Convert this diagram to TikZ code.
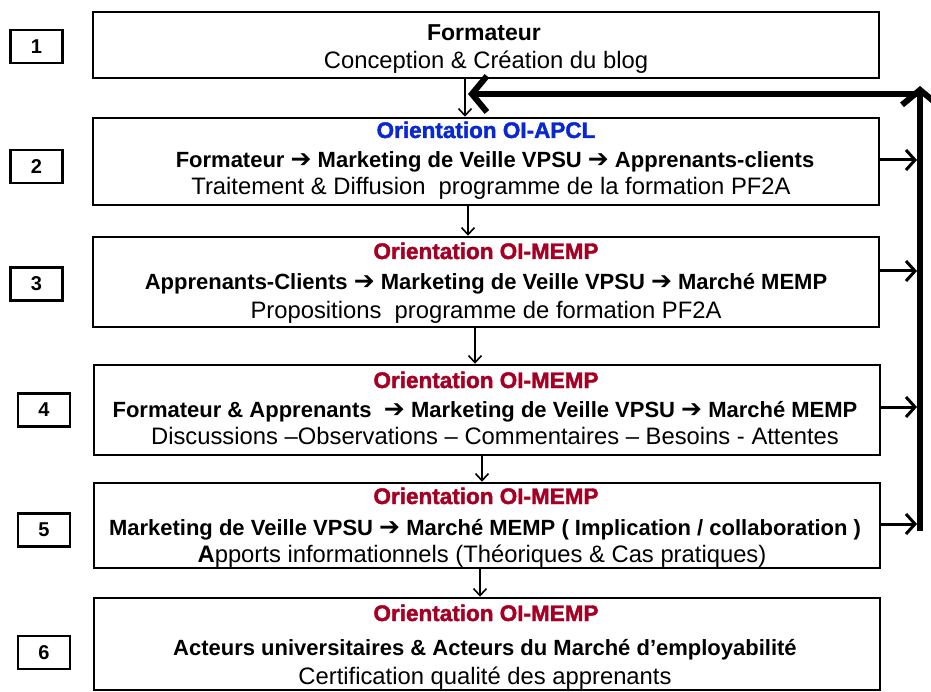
\documentclass[tikz,border=0pt]{standalone}
\usepackage{fontspec}
\setmainfont{Liberation Sans}
\newfontfamily\dejavu{DejaVu Sans}
\newfontfamily\heavyfont[BoldFeatures={FakeBold=1.8}]{Liberation Sans}
\usetikzlibrary{arrows.meta}
\definecolor{hred}{RGB}{165,0,35}
\definecolor{hblue}{RGB}{10,40,210}
\newcommand{\rarr}{{\dejavu\fontsize{25}{25}\selectfont ➔}}
\tikzset{
  mainbox/.style={draw, line width=2.5pt, minimum width=786, minimum height=#1, inner sep=0},
  numbox/.style={draw, line width=2.2pt, minimum width=52, minimum height=33, inner sep=0, font=\fontsize{20}{20}\selectfont\bfseries},
  head/.style={font=\heavyfont\fontsize{22.5}{22.5}\selectfont\bfseries, inner sep=0, anchor=base},
  boldline/.style={font=\fontsize{22}{22}\selectfont\bfseries, inner sep=0, anchor=base},
  plainline/.style={font=\fontsize{23.8}{23.8}\selectfont, inner sep=0, anchor=base},
  thinarr/.style={line width=1.6pt, -{Straight Barb[length=7pt, width=13pt, line width=1.6pt]}},
  thickarr/.style={line width=6pt, -{Straight Barb[length=15pt, width=36pt, line width=6pt]}},
  sidearr/.style={line width=3pt, -{Straight Barb[length=9pt, width=20pt, line width=3pt]}}
}
\begin{document}
\begin{tikzpicture}[x=1pt, y=-1pt]
\useasboundingbox (0,0) rectangle (931,692);
% main boxes
\node[mainbox=66] (b1) at (486,45) {};
\node[mainbox=87] (b2) at (486,161.5) {};
\node[mainbox=90] (b3) at (486,282) {};
\node[mainbox=90] (b4) at (487,410) {};
\node[mainbox=85] (b5) at (487,525.5) {};
\node[mainbox=92] (b6) at (487,644) {};
% number boxes
\node[numbox] (n1) at (36.5,46.5) {1};
\node[numbox] (n2) at (36.5,166.5) {2};
\node[numbox] (n3) at (36.5,284) {3};
\node[numbox] (n4) at (44,410) {4};
\node[numbox] (n5) at (44,530) {5};
\node[numbox] (n6) at (44,652.5) {6};
% texts box 1
\node[boldline, font=\fontsize{23}{23}\selectfont\bfseries] (t1a) at (484,41) {Formateur};
\node[plainline] (t1b) at (486,69) {Conception \& Création du blog};
% box 2
\node[head, text=hblue] (t2h) at (486,138) {Orientation OI-APCL};
\node[boldline] (t2a) at (495,168) {Formateur \rarr\ Marketing de Veille VPSU \rarr\ Apprenants-clients};
\node[plainline] (t2b) at (491,195) {Traitement \& Diffusion\ \ programme de la formation PF2A};
% box 3
\node[head, text=hred] (t3h) at (486,259) {Orientation OI-MEMP};
\node[boldline] (t3a) at (486,290) {Apprenants-Clients \rarr\ Marketing de Veille VPSU \rarr\ Marché MEMP};
\node[plainline] (t3b) at (486,319) {Propositions\ \ programme de formation PF2A};
% box 4
\node[head, text=hred] (t4h) at (486,388) {Orientation OI-MEMP};
\node[boldline] (t4a) at (485,417) {Formateur \& Apprenants\ \ \rarr\ Marketing de Veille VPSU \rarr\ Marché MEMP};
\node[plainline] (t4b) at (495,444) {Discussions –Observations – Commentaires – Besoins - Attentes};
% box 5
\node[head, text=hred] (t5h) at (486,504) {Orientation OI-MEMP};
\node[boldline] (t5a) at (485,535) {Marketing de Veille VPSU \rarr\ Marché MEMP ( Implication / collaboration )};
\node[plainline] (t5b) at (482,562) {\textbf{A}pports informationnels (Théoriques \& Cas pratiques)};
% box 6
\node[head, text=hred] (t6h) at (486,621) {Orientation OI-MEMP};
\node[boldline] (t6a) at (485,655) {Acteurs universitaires \& Acteurs du Marché d’employabilité};
\node[plainline] (t6b) at (485,684) {Certification qualité des apprenants};
% thin arrows between boxes
\coordinate (x12) at (465,0);
\coordinate (x23) at (468,0);
\coordinate (x34) at (475,0);
\coordinate (x45) at (482,0);
\coordinate (x56) at (480,0);
\draw[thinarr] (x12 |- b1.south) -- (x12 |- b2.north);
\draw[thinarr] (x23 |- b2.south) -- (x23 |- b3.north);
\draw[thinarr] (x34 |- b3.south) -- (x34 |- b4.north);
\draw[thinarr] (x45 |- b4.south) -- (x45 |- b5.north);
\draw[thinarr] (x56 |- b5.south) -- (x56 |- b6.north);
% feedback
\coordinate (vbot) at (920,531);
\coordinate (vtop) at (920,86);
\coordinate (hstart) at (920,94);
\coordinate (hend) at (468,94);
\draw[thickarr] (vbot) -- (vtop);
\draw[thickarr] (hstart) -- (hend);
\coordinate (vx) at (917,0);
\draw[sidearr] (b2.east |- 0,160) -- (vx |- 0,160);
\draw[sidearr] (b3.east |- 0,271) -- (vx |- 0,271);
\draw[sidearr] (b4.east |- 0,407) -- (vx |- 0,407);
\draw[sidearr] (b5.east |- 0,524) -- (vx |- 0,524);
\end{tikzpicture}
\end{document}
